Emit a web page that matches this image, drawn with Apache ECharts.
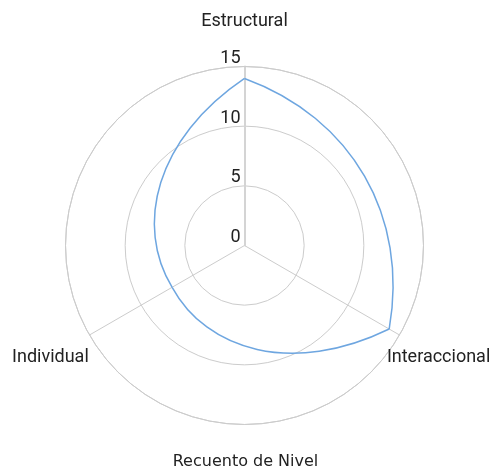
<!DOCTYPE html>
<html><head><meta charset="utf-8">
<script src="https://cdn.jsdelivr.net/npm/echarts@6/dist/echarts.min.js"></script>
<style>html,body{margin:0;padding:0;background:#fff}#c{width:491px;height:466px}</style>
</head><body><div id="c"></div>
<script>
// ---- data ----
const categories = ['Estructural', 'Interaccional', 'Individual'];
const values = [14, 14, 7];
const radiusTicks = [0, 5, 10, 15];
const chartTitle = 'Recuento de Nivel';

// ---- helpers built from the data ----
const n = categories.length;
const angleOf = i => i * 360 / n;
const rMax = radiusTicks[radiusTicks.length - 1];
const segmentData = categories.map((c, i) => [values[i], angleOf(i), values[(i + 1) % n], angleOf(i + 1)]);
const labelData = categories.map((c, i) => [rMax * 1.252, angleOf(i)]);

const chart = echarts.init(document.getElementById('c'), null, {renderer: 'canvas'});
const option = {
  animation: false,
  backgroundColor: '#ffffff',
  title: {
    text: chartTitle, left: 'center', top: 454, padding: 0,
    textStyle: {fontFamily: 'DejaVu Sans', fontSize: 16, fontWeight: 'normal', color: '#222'}
  },
  polar: {center: [244.5, 245.5], radius: 179},
  angleAxis: {
    type: 'value', min: 0, max: 360, interval: 360 / n, startAngle: 90, clockwise: true,
    axisLine: {show: true, lineStyle: {color: '#cccccc', width: 1}},
    axisTick: {show: false}, axisLabel: {show: false},
    splitLine: {show: true, lineStyle: {color: '#cccccc', width: 1}}
  },
  radiusAxis: {
    min: radiusTicks[0], max: rMax, interval: radiusTicks[1] - radiusTicks[0],
    axisLine: {show: true, lineStyle: {color: '#d4d4d4', width: 2}},
    axisTick: {show: false},
    axisLabel: {fontFamily: 'Roboto', fontSize: 18, color: '#222', align: 'right', verticalAlign: 'bottom', margin: 4, lineHeight: 16},
    splitLine: {show: true, lineStyle: {color: '#cccccc', width: 1}}
  },
  series: [
    {
      type: 'custom', coordinateSystem: 'polar', data: segmentData, z: 5, silent: true,
      renderItem: function (params, api) {
        const r0 = api.value(0), a0 = api.value(1), r1 = api.value(2), a1 = api.value(3);
        const p = [0, 1, 2, 3].map(k => api.coord([r0 + (r1 - r0) * k / 3, a0 + (a1 - a0) * k / 3]));
        return {
          type: 'bezierCurve',
          shape: {x1: p[0][0], y1: p[0][1], cpx1: p[1][0], cpy1: p[1][1], cpx2: p[2][0], cpy2: p[2][1], x2: p[3][0], y2: p[3][1]},
          style: {fill: null, stroke: '#6ea6e0', lineWidth: 1.5}
        };
      }
    },
    {
      type: 'custom', coordinateSystem: 'polar', data: labelData, z: 6, silent: true,
      renderItem: function (params, api) {
        const p = api.coord([api.value(0), api.value(1)]);
        return {
          type: 'text', x: p[0], y: p[1],
          style: {text: categories[params.dataIndex], fontFamily: 'Roboto', fontSize: 18, fill: '#222', align: 'center', verticalAlign: 'middle'}
        };
      }
    }
  ]
};
chart.setOption(option);
</script></body></html>
